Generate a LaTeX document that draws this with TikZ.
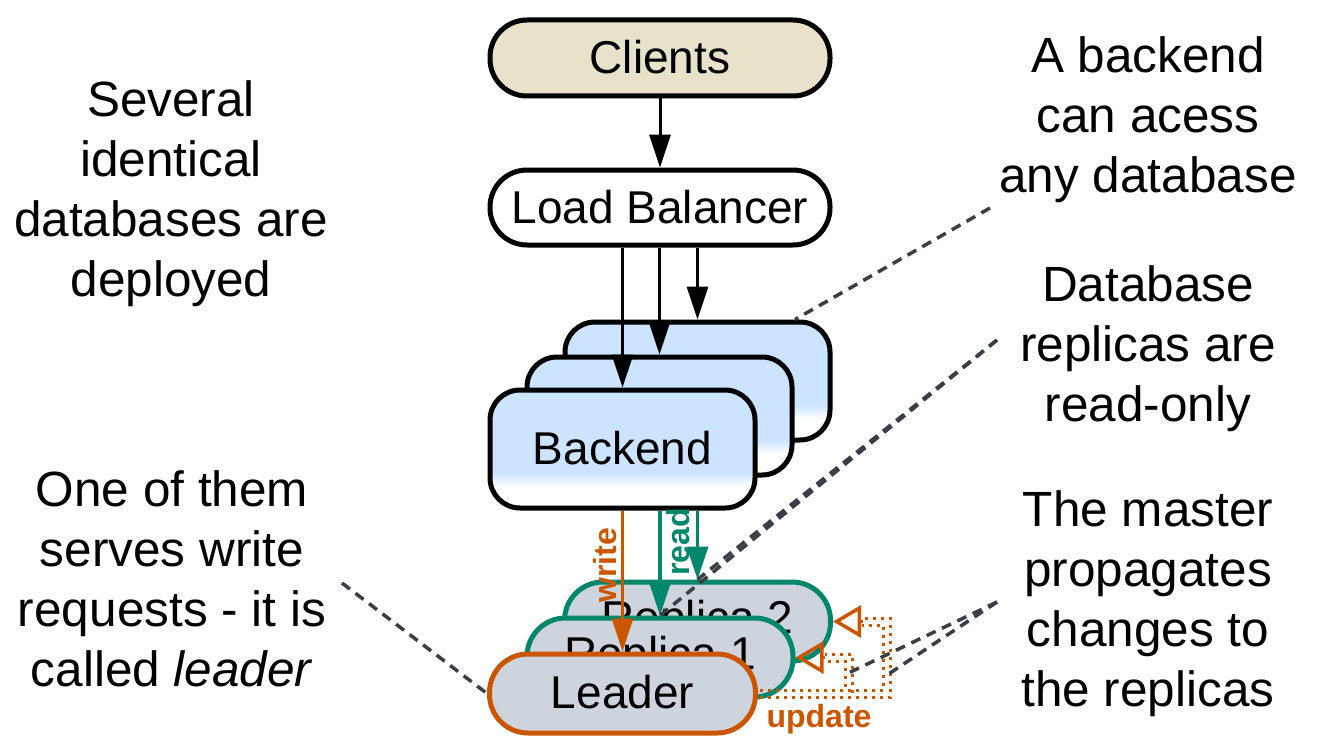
\documentclass[tikz,border=0pt]{standalone}
\usepackage{fontspec}
\setmainfont{Liberation Sans}
\usetikzlibrary{arrows.meta,calc}
\definecolor{bkblue}{RGB}{204,228,255}
\definecolor{clbeige}{RGB}{232,226,202}
\definecolor{repgray}{RGB}{206,212,221}
\definecolor{tealc}{RGB}{0,135,108}
\definecolor{orng}{RGB}{204,85,0}
\definecolor{dgray}{RGB}{58,63,71}
\pgfdeclareverticalshading{bkshade}{100bp}{color(0bp)=(white); color(34bp)=(white); color(40bp)=(bkblue); color(100bp)=(bkblue)}
\begin{document}
\begin{tikzpicture}[x=1pt,y=-1pt,
  boxfont/.style={font=\fontsize{46}{56}\selectfont},
  pill/.style={draw=black, line width=5pt, minimum width=340pt, minimum height=76pt, rounded corners=37pt, inner sep=0pt, boxfont},
  bkbox/.style={draw=black, line width=5pt, minimum width=265pt, minimum height=118pt, rounded corners=30pt, inner sep=0pt, shade, shading=bkshade, boxfont},
  dbbox/.style={line width=5pt, minimum width=266pt, minimum height=79pt, rounded corners=38.5pt, fill=repgray, inner sep=0pt, boxfont},
  arr/.style={line width=3pt, -{Triangle[length=33pt,width=21pt]}},
  lbl/.style={font=\fontsize{32}{38}\selectfont\bfseries, inner sep=0pt},
  dotrow/.style={draw=orng, line width=3pt, dash pattern=on 3pt off 5pt},
  updtip/.style={draw=orng, line width=3.5pt, -{Triangle[open,length=28pt,width=32pt]}},
  annline/.style={draw=dgray, line width=3.5pt, dash pattern=on 10pt off 7pt},
  anntext/.style={font=\fontsize{49.5}{60}\selectfont, align=center, anchor=base, inner sep=0pt}
]
\fill[white] (0,0) rectangle (1318,752);
\useasboundingbox (0,0) rectangle (1318,752);

% annotation texts (anchored at the baseline of their last line)
\node[anntext] (tl1) at (171,296) {Several\\identical\\databases are\\deployed};
\node[anntext] (tl2) at (172,686) {One of them\\serves write\\requests - it is\\called \textit{leader}};
\node[anntext] (tr1) at (1148,192) {A backend\\can acess\\any database};
\node[anntext] (tr2) at (1148,421) {Database\\replicas are\\read-only};
\node[anntext] (tr3) at (1148,706) {The master\\propagates\\changes to\\the replicas};

% nodes
\node[pill, fill=clbeige] (clients) at (660,58) {\raisebox{2pt}{Clients}};
\node[pill, fill=white, minimum height=75pt] (lb) at (660,207.5) {Load Balancer};

\node[bkbox] (be3) at (697.5,381) {Backend};
\node[bkbox] (be2) at (659.5,416) {Backend};
\node[bkbox] (be1) at (622.5,449) {\raisebox{2pt}{Backend}};

\node[dbbox, draw=tealc] (rep2) at (697.5,621.5) {\raisebox{2pt}{Replica 2}};
\node[dbbox, draw=tealc] (rep1) at (660,657.5) {\raisebox{2pt}{Replica 1}};
\node[dbbox, draw=orng] (leader) at (622.5,693.5) {\raisebox{3pt}{Leader}};

% arrows
\draw[arr] (clients.south) -- (lb.north);
\draw[arr] (lb.south -| be1.north) -- (be1.north);
\draw[arr] (lb.south -| be2.north) -- (be2.north);
\draw[arr] (lb.south -| be3.north) -- (be3.north);

\draw[arr, draw=orng, fill=orng, line width=2.5pt] (be1.south) -- (leader.north);
\draw[arr, draw=tealc, fill=tealc, line width=3.5pt] (be1.south -| rep1.north) -- (rep1.north);
\draw[arr, draw=tealc, fill=tealc, line width=3.5pt] (be1.south -| rep2.north) -- (rep2.north);
\node[lbl, text=orng, rotate=90] (wlbl) at (605,565) {write};
\node[lbl, text=tealc, rotate=90] (rlbl) at (678,542) {read};

% update paths (double dotted)
\draw[dotrow] ($(leader.east)+(2,3.5)$) -| ($(rep2.east)+(57.5,-3.5)$) -- ($(rep2.east)+(29,-3.5)$);
\draw[dotrow] ($(leader.east)+(2,-3.5)$) -| ($(rep2.east)+(50.5,3.5)$) -- ($(rep2.east)+(29,3.5)$);
\draw[dotrow] ($(leader.east)+(2,3.5)$) -| ($(rep1.east)+(56.5,-3.5)$) -- ($(rep1.east)+(29,-3.5)$);
\draw[dotrow] ($(leader.east)+(2,-3.5)$) -| ($(rep1.east)+(49.5,3.5)$) -- ($(rep1.east)+(29,3.5)$);
\draw[updtip] ($(rep2.east)+(29.5,0)$) -- (rep2.east);
\draw[updtip] ($(rep1.east)+(29.5,0)$) -- (rep1.east);
\node[lbl, text=orng, anchor=base] (ulbl) at (819,727) {update};

% annotation connectors
\coordinate (a1) at (990,208);
\coordinate (a2) at (997,340);
\coordinate (a3) at (997,602);
\coordinate (a4) at (342,583);
\coordinate (ua) at ($(rep2.east)+(54,53.5)$);
\coordinate (ub) at ($(rep1.east)+(53,15.5)$);
\draw[annline] (a1) -- ($(be3.north)+(97.5,0)$);
\draw[annline] (a2) -- (rep2.north);
\draw[annline] (a2) -- (rep1.north);
\draw[annline] (a3) -- (ub);
\draw[annline] (a3) -- (ua);
\draw[annline] (a4) -- (leader.west);
\end{tikzpicture}
\end{document}
